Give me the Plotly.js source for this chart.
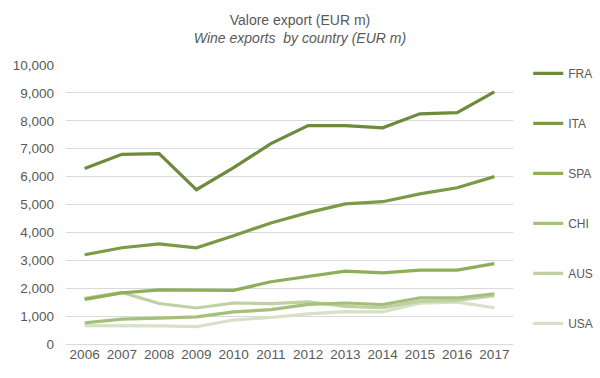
<!DOCTYPE html>
<html>
<head>
<meta charset="utf-8">
<script src="https://cdn.plot.ly/plotly-3.0.1.min.js"></script>
<style>html,body{margin:0;padding:0;background:#fff;}#chart{width:600px;height:378px;}</style>
</head>
<body>
<div id="chart"></div>
<script>
const years = ["2006","2007","2008","2009","2010","2011","2012","2013","2014","2015","2016","2017"];
const countries = ["FRA","ITA","SPA","CHI","AUS","USA"];
const FRA = [6290, 6800, 6820, 5530, 6320, 7180, 7830, 7830, 7750, 8250, 8290, 9040];
const ITA = [3200, 3450, 3590, 3450, 3880, 4340, 4710, 5020, 5100, 5380, 5600, 6000];
const SPA = [1600, 1830, 1940, 1920, 1920, 2230, 2430, 2610, 2550, 2650, 2650, 2880];
const CHI = [760, 890, 930, 970, 1150, 1230, 1420, 1470, 1410, 1650, 1650, 1800];
const AUS = [1640, 1850, 1450, 1290, 1470, 1450, 1510, 1350, 1300, 1530, 1560, 1730];
const USA = [660, 660, 650, 620, 860, 950, 1080, 1160, 1150, 1460, 1500, 1300];
const seriesValues = [FRA, ITA, SPA, CHI, AUS, USA];
const colors = ["#6e8b3d", "#7a9a46", "#8fae58", "#a4c07c", "#bfd1a3", "#d7e1c6"];

const traces = countries.map((c, i) => ({
  type: "scatter",
  mode: "lines",
  name: c,
  x: years,
  y: seriesValues[i],
  legendgroup: c,
  legendrank: i + 1,
  line: {color: colors[i], width: 3.2},
  hoverinfo: "x+y+name"
}));
// draw lighter lines first so darker ones lie on top; legend order kept by legendrank
const drawOrder = traces.slice().reverse();

const layout = {
  width: 600, height: 378,
  paper_bgcolor: "#ffffff", plot_bgcolor: "#ffffff",
  margin: {l: 66, r: 87, t: 65, b: 34, autoexpand: false},
  font: {family: "Liberation Sans, Arial, sans-serif", color: "#595959", size: 13},
  title: {
    text: "Valore export (EUR m)<br><i>Wine exports  by country (EUR m)</i>",
    font: {family: "Liberation Sans, Arial, sans-serif", size: 14, color: "#595959"},
    x: 0.5, xanchor: "center", y: 0.935, yanchor: "top"
  },
  xaxis: {
    type: "category",
    range: [-0.5, 11.5],
    showgrid: false, zeroline: false, showline: false,
    ticks: "", tickfont: {size: 13.5, color: "#595959"}
  },
  yaxis: {
    range: [0, 10000],
    dtick: 1000, tickformat: ",d",
    showgrid: true, gridcolor: "#d9d9d9", gridwidth: 1,
    zeroline: true, zerolinecolor: "#d9d9d9", zerolinewidth: 1,
    showline: false, ticks: "", ticklen: 0,
    ticklabelstandoff: 11,
    tickfont: {size: 13.5, color: "#595959"}
  },
  showlegend: true,
  legend: {
    x: 1.034, xanchor: "left", y: 1.022, yanchor: "top",
    traceorder: "grouped", tracegroupgap: 31,
    maxheight: 1, borderwidth: 0,
    font: {size: 12, color: "#595959"},
    bgcolor: "rgba(0,0,0,0)"
  }
};

Plotly.newPlot("chart", drawOrder, layout, {displayModeBar: false, staticPlot: true});
</script>
</body>
</html>
